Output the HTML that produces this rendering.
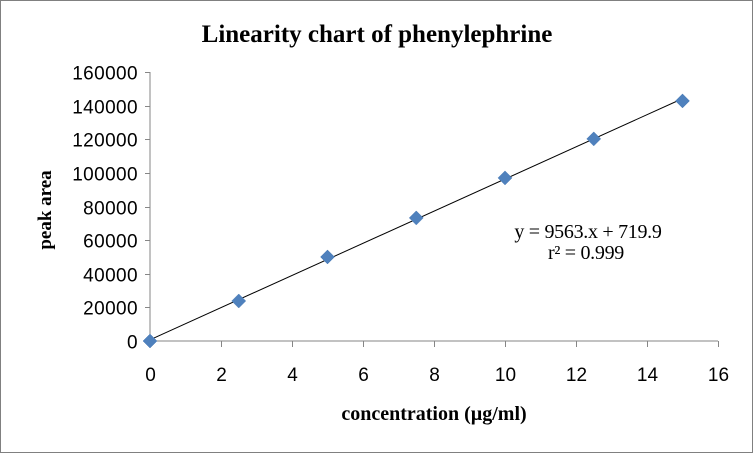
<!DOCTYPE html>
<html><head><meta charset="utf-8">
<style>
html,body{margin:0;padding:0;background:#fff;}
svg{display:block;}
</style></head>
<body>
<svg id="chart" width="754" height="454" xmlns="http://www.w3.org/2000/svg" font-family="Liberation Sans, sans-serif">
<rect x="0.5" y="0.5" width="752" height="452" fill="#fff" stroke="#808080" stroke-width="1"/>
<text x="377" y="42" text-anchor="middle" font-family="Liberation Serif, serif" font-weight="bold" font-size="25">Linearity chart of phenylephrine</text>
<text transform="translate(51,210) rotate(-90)" text-anchor="middle" font-family="Liberation Serif, serif" font-weight="bold" font-size="19">peak area</text>
<text x="434" y="420" text-anchor="middle" font-family="Liberation Serif, serif" font-weight="bold" font-size="20">concentration (µg/ml)</text>
<text x="588" y="238" text-anchor="middle" font-family="Liberation Serif, serif" font-size="20" letter-spacing="-0.3">y = 9563.x + 719.9</text>
<text x="586" y="259" text-anchor="middle" font-family="Liberation Serif, serif" font-size="20" letter-spacing="-0.3">r² = 0.999</text>
<g id="axes"></g>
<g id="marks"></g>
</svg>
<script>
const xTicks = [0,2,4,6,8,10,12,14,16];
const yTicks = [0,20000,40000,60000,80000,100000,120000,140000,160000];
const concentrations = [0,2.5,5,7.5,10,12.5,15];
const peakAreas = [0,23800,50000,73200,97000,120200,142800];
const slope = 9563;
const intercept = 719.9;

const NS = "http://www.w3.org/2000/svg";
const X0 = 150, X1 = 718, Y0 = 341, Y1 = 72;
function sx(v){ return X0 + (v - 0) / 16 * (X1 - X0); }
function sy(v){ return Y0 - v / 160000 * (Y0 - Y1); }
function mk(tag, attrs, parent){
  const e = document.createElementNS(NS, tag);
  for (const k in attrs) e.setAttribute(k, attrs[k]);
  parent.appendChild(e);
  return e;
}
const axes = document.getElementById('axes');
const marks = document.getElementById('marks');

const yAxis = mk('line', {x1:X0, y1:Y0, x2:X0, y2:Y1, stroke:'#868686', 'stroke-width':1}, axes);


const xAxis = mk('line', {x1:X0, y1:Y0, x2:X1, y2:Y0, stroke:'#868686', 'stroke-width':1}, axes);



yTicks.forEach(v => {
  const y = Math.round(sy(v)) + 0.5;
  const t = mk('line', {x1:X0-5, y1:y, x2:X0, y2:y, stroke:'#868686'}, axes);
  
  
  const l = mk('text', {x:X0-12, y:y+7, 'text-anchor':'end', 'font-size':19, 'letter-spacing':0.4, fill:'#000'}, axes);
  l.textContent = v;
  
  
});
xTicks.forEach(v => {
  const x = Math.round(sx(v)) + 0.5;
  const t = mk('line', {x1:x, y1:Y0, x2:x, y2:Y0+6, stroke:'#868686'}, axes);
  
  
  const l = mk('text', {x:x, y:Y0+40, 'text-anchor':'middle', 'font-size':19, fill:'#000'}, axes);
  l.textContent = v;
  
  
});

const xmin = concentrations[0], xmax = concentrations[concentrations.length-1];
const trend = mk('line', {x1:sx(xmin), y1:sy(slope*xmin+intercept), x2:sx(xmax), y2:sy(slope*xmax+intercept), stroke:'#000', 'stroke-width':1}, marks);



concentrations.forEach((c, i) => {
  const x = sx(c), y = sy(peakAreas[i]), r = 7;
  const p = mk('polygon', {points:`${x},${y-r} ${x+r},${y} ${x},${y+r} ${x-r},${y}`, fill:'#4f81bd', stroke:'#4a7ab5', 'stroke-width':0.5}, marks);
  
  
});
</script>
</body></html>
